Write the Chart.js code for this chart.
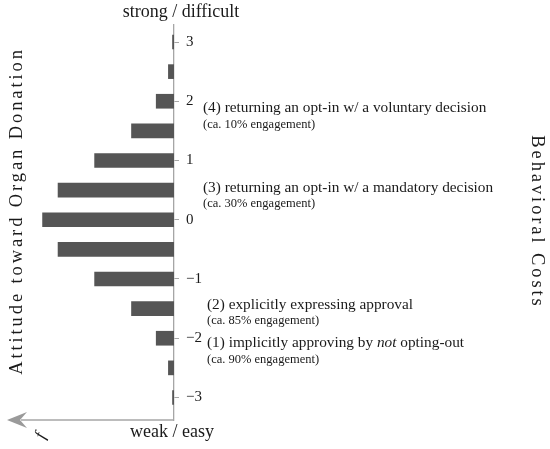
<!DOCTYPE html>
<html>
<head>
<meta charset="utf-8">
<script src="https://cdn.jsdelivr.net/npm/chart.js@4.4.1/dist/chart.umd.min.js"></script>
<style>
  html, body { margin: 0; padding: 0; background: #fff; }
</style>
</head>
<body>
<canvas id="costChart" width="550" height="449"></canvas>
<script>
// bar centres on the attitude axis and the relative frequency of each
const attitudes = [3, 2.5, 2, 1.5, 1, 0.5, 0, -0.5, -1, -1.5, -2, -2.5, -3];
const frequencies = [0.0045, 0.017, 0.054, 0.129, 0.241, 0.352, 0.399, 0.352, 0.241, 0.129, 0.054, 0.017, 0.0045];
const tickValues = [3, 2, 1, 0, -1, -2, -3];

const stageLabels = [
  '(4) returning an opt-in w/ a voluntary decision',
  '(3) returning an opt-in w/ a mandatory decision',
  '(2) explicitly expressing approval',
  '(1) implicitly approving by '
];
const stageNotes = [
  '(ca. 10% engagement)',
  '(ca. 30% engagement)',
  '(ca. 85% engagement)',
  '(ca. 90% engagement)'
];

const SERIF = '"Liberation Serif", "Times New Roman", serif';
const AXIS_GREY = '#a6a6a6';

const labelsPlugin = {
  id: 'figureText',
  afterDraw(chart) {
    const ctx = chart.ctx;
    const area = chart.chartArea;
    ctx.save();

    // horizontal frequency axis with a stealth arrow head
    ctx.strokeStyle = AXIS_GREY;
    ctx.lineWidth = 1.3;
    ctx.beginPath();
    ctx.moveTo(area.right, area.bottom);
    ctx.lineTo(area.left + 14, area.bottom);
    ctx.stroke();
    ctx.fillStyle = '#9a9a9a';
    ctx.beginPath();
    ctx.moveTo(area.left, area.bottom);
    ctx.lineTo(area.left + 20, area.bottom - 8);
    ctx.lineTo(area.left + 13, area.bottom);
    ctx.lineTo(area.left + 20, area.bottom + 8);
    ctx.closePath();
    ctx.fill();

    ctx.fillStyle = '#1a1a1a';
    ctx.textBaseline = 'middle';

    // ends of the attitude axis
    ctx.font = '18px ' + SERIF;
    ctx.textAlign = 'center';
    ctx.fillText('strong / difficult', 181, 12);
    ctx.fillText('weak / easy', 172, 432);

    // f under the arrow
    ctx.save();
    ctx.translate(41, 436);
    ctx.rotate(-1.2);
    ctx.font = 'italic 17px ' + SERIF;
    ctx.fillText('f', 0, 0);
    ctx.restore();

    // side titles
    ctx.font = '18.5px ' + SERIF;
    if ('letterSpacing' in ctx) ctx.letterSpacing = '2.9px';
    ctx.save();
    ctx.translate(17, 211);
    ctx.rotate(-Math.PI / 2);
    ctx.fillText('Attitude toward Organ Donation', 0, 0);
    ctx.restore();
    ctx.save();
    ctx.translate(537, 222);
    ctx.rotate(Math.PI / 2);
    ctx.fillText('Behavioral Costs', 0, 0);
    ctx.restore();
    if ('letterSpacing' in ctx) ctx.letterSpacing = '0px';

    // engagement stages
    ctx.textAlign = 'left';
    const rows = [[203, 108, 125], [203, 188, 204], [207, 305, 321], [207, 343, 360]];
    rows.forEach(([x, yMain, yNote], i) => {
      ctx.font = '15.3px ' + SERIF;
      ctx.fillText(stageLabels[i], x, yMain);
      if (i === 3) {
        let cx = x + ctx.measureText(stageLabels[i]).width;
        ctx.font = 'italic 15.3px ' + SERIF;
        ctx.fillText('not', cx, yMain);
        cx += ctx.measureText('not ').width;
        ctx.font = '15.3px ' + SERIF;
        ctx.fillText('opting-out', cx, yMain);
      }
      ctx.font = '12.5px ' + SERIF;
      ctx.fillText(stageNotes[i], x, yNote);
    });

    ctx.restore();
  }
};

new Chart(document.getElementById('costChart'), {
  type: 'bar',
  data: {
    datasets: [{
      data: attitudes.map((a, i) => ({ x: frequencies[i], y: a })),
      backgroundColor: '#555555',
      borderWidth: 0,
      barThickness: 14
    }]
  },
  options: {
    indexAxis: 'y',
    responsive: false,
    animation: false,
    devicePixelRatio: 1,
    layout: { padding: { left: 7, top: 25, bottom: 29, right: 0 } },
    plugins: { legend: { display: false }, tooltip: { enabled: false } },
    scales: {
      x: {
        type: 'linear',
        reverse: true,
        min: 0,
        max: 0.507,
        display: false
      },
      y: {
        type: 'linear',
        position: 'right',
        offset: false,
        min: -3.38,
        max: 3.287,
        afterBuildTicks(scale) {
          scale.ticks = tickValues.map(v => ({ value: v }));
        },
        afterFit(scale) {
          scale.width = 376;
        },
        border: { display: true, color: AXIS_GREY, width: 1.3 },
        grid: { offset: false, drawOnChartArea: false, drawTicks: true, tickLength: 5, color: AXIS_GREY, lineWidth: 1 },
        ticks: {
          padding: 7,
          color: '#1a1a1a',
          font: { family: SERIF, size: 15 },
          callback: v => (v < 0 ? '\u2212' + Math.abs(v) : String(v))
        }
      }
    }
  },
  plugins: [labelsPlugin]
});
</script>
</body>
</html>
